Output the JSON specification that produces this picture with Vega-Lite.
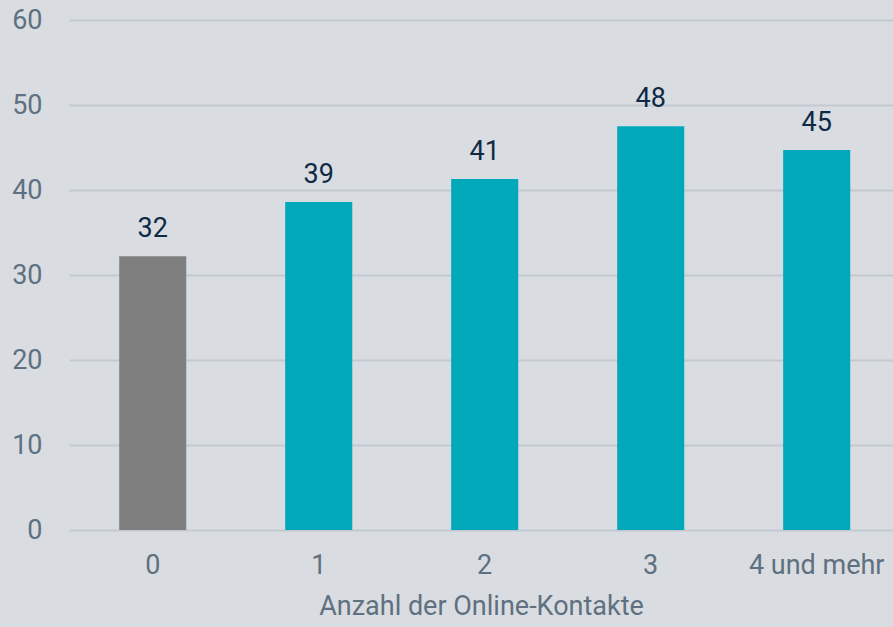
{
  "$schema": "https://vega.github.io/schema/vega-lite/v6.json",
  "autosize": {"type": "none"},
  "padding": {"left": 69, "top": 20, "right": 0, "bottom": 97},
  "width": 824,
  "height": 510,
  "background": "#d9dde1",
  "config": {
    "view": {"stroke": null},
    "font": "Roboto"
  },
  "data": {
    "values": [
      {"Kontakte": "0", "Wert": 32.2},
      {"Kontakte": "1", "Wert": 38.6},
      {"Kontakte": "2", "Wert": 41.3},
      {"Kontakte": "3", "Wert": 47.5},
      {"Kontakte": "4 und mehr", "Wert": 44.7}
    ]
  },
  "encoding": {
    "x": {
      "field": "Kontakte",
      "type": "nominal",
      "sort": null,
      "scale": {"paddingInner": 0.596, "paddingOuter": 0.28, "align": 0.54},
      "axis": {
        "title": "Anzahl der Online-Kontakte",
        "labelAngle": 0,
        "labelFontSize": 27,
        "labelColor": "#5f7080",
        "labelPadding": 22,
        "ticks": false,
        "domain": false,
        "titleFontSize": 27,
        "titleFontWeight": "normal",
        "titleColor": "#5f7080",
        "titlePadding": 15
      }
    },
    "y": {
      "field": "Wert",
      "type": "quantitative",
      "scale": {"domain": [0, 60]},
      "axis": {
        "title": null,
        "values": [0, 10, 20, 30, 40, 50, 60],
        "labelFontSize": 27,
        "labelColor": "#5f7080",
        "labelPadding": 27,
        "ticks": false,
        "domain": false,
        "gridColor": "#c2c9d0",
        "gridWidth": 2
      }
    }
  },
  "layer": [
    {
      "mark": {"type": "bar"},
      "encoding": {
        "color": {
          "field": "Kontakte",
          "type": "nominal",
          "scale": {
            "domain": ["0", "1", "2", "3", "4 und mehr"],
            "range": ["#7f7f7f", "#01a8ba", "#01a8ba", "#01a8ba", "#01a8ba"]
          },
          "legend": null
        }
      }
    },
    {
      "mark": {"type": "text", "baseline": "alphabetic", "dy": -19, "fontSize": 27, "color": "#0e2a44"},
      "encoding": {
        "text": {"field": "Wert", "type": "quantitative", "format": ".0f"}
      }
    }
  ]
}
